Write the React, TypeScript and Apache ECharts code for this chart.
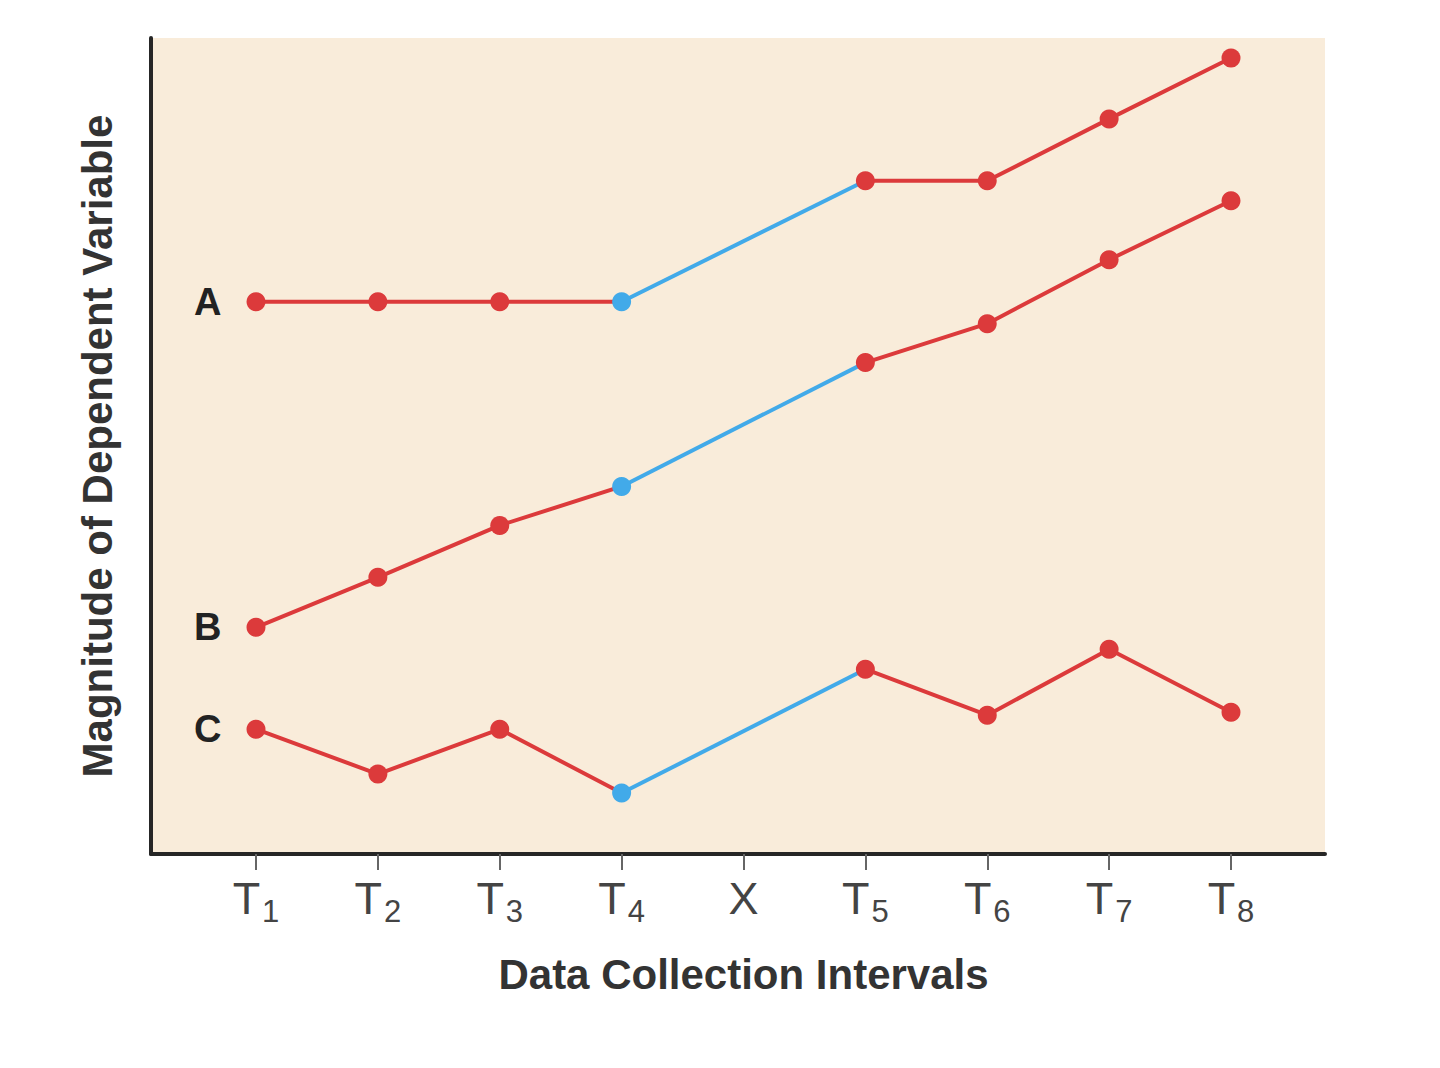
import React, { useEffect, useRef } from "react";
import * as echarts from "echarts";

const categories = ["T1", "T2", "T3", "T4", "X", "T5", "T6", "T7", "T8"];
const tickLabels = [
  { main: "T", sub: "1" },
  { main: "T", sub: "2" },
  { main: "T", sub: "3" },
  { main: "T", sub: "4" },
  { main: "X", sub: "" },
  { main: "T", sub: "5" },
  { main: "T", sub: "6" },
  { main: "T", sub: "7" },
  { main: "T", sub: "8" },
];
const seriesNames = ["A", "B", "C"];
// null at X (treatment point)
const seriesA = [55.3, 55.3, 55.3, 55.3, null, 67.4, 67.4, 73.6, 79.7];
const seriesB = [22.7, 27.7, 32.9, 36.8, null, 49.2, 53.1, 59.5, 65.4];
const seriesC = [12.5, 8.0, 12.5, 6.1, null, 18.5, 13.9, 20.5, 14.2];
const yMax = 81.7;
const xTitle = "Data Collection Intervals";
const yTitle = "Magnitude of Dependent Variable";

const RED = "#DC3A3B";
const BLUE = "#42AAE9";
const BG = "#F9ECDA";
const FONT = "'Liberation Sans', Arial, Helvetica, sans-serif";

export default function App() {
  const ref = useRef<HTMLDivElement>(null);
  useEffect(() => {
    if (!ref.current) return;
    const chart = echarts.init(ref.current, null, { renderer: "svg" });
    const all = [seriesA, seriesB, seriesC];
    const series: any[] = [];
    all.forEach((vals, si) => {
      const before = 3; // index of T4
      const after = 5; // index of T5
      const blueData = vals.map((v, i) => (i === before || i === after ? v : null));
      series.push({
        type: "line",
        xAxisIndex: 0,
        yAxisIndex: 0,
        data: blueData,
        connectNulls: true,
        showSymbol: false,
        symbol: "none",
        lineStyle: { color: BLUE, width: 4 },
        z: 2,
        silent: true,
      });
      const redData = vals.map((v, i) => {
        const item: any = { value: v === null ? "-" : v };
        if (i === before) item.itemStyle = { color: BLUE };
        if (i === 0) {
          item.label = {
            show: true,
            position: "left",
            distance: 25,
            formatter: seriesNames[si],
            fontFamily: FONT,
            fontWeight: "bold",
            fontSize: 38,
            color: "#222",
          };
        }
        return item;
      });
      series.push({
        type: "line",
        name: seriesNames[si],
        xAxisIndex: 0,
        yAxisIndex: 0,
        data: redData,
        connectNulls: false,
        symbol: "circle",
        symbolSize: 19,
        showAllSymbol: true,
        itemStyle: { color: RED },
        lineStyle: { color: RED, width: 4 },
        z: 3,
        silent: true,
      });
    });

    chart.setOption({
      animation: false,
      grid: [
        { left: 256, right: 209, top: 38, bottom: 214, show: false },
        {
          left: 151,
          right: 115,
          top: 38,
          bottom: 214,
          show: true,
          backgroundColor: BG,
          borderWidth: 0,
        },
      ],
      xAxis: [
        {
          type: "category",
          gridIndex: 0,
          data: categories,
          boundaryGap: false,
          axisLine: { show: false },
          axisTick: {
            show: true,
            length: 16,
            alignWithLabel: true,
            lineStyle: { color: "#666", width: 2 },
          },
          axisLabel: {
            margin: 22,
            interval: 0,
            formatter: (_v: string, idx: number) => {
              const t = tickLabels[idx];
              return t.sub ? `{t|${t.main}}{s|${t.sub}}` : `{t|${t.main}}`;
            },
            rich: {
              t: {
                fontFamily: FONT,
                fontSize: 45,
                lineHeight: 45,
                color: "#444",
                verticalAlign: "top",
              },
              s: {
                fontFamily: FONT,
                fontSize: 31,
                lineHeight: 31,
                color: "#444",
                padding: [26, 0, 0, 2],
              },
            },
          },
          splitLine: { show: false },
          name: xTitle,
          nameLocation: "middle",
          nameGap: 99,
          nameTextStyle: {
            fontFamily: FONT,
            fontWeight: "bold",
            fontSize: 42,
            color: "#333",
          },
        },
        {
          type: "value",
          gridIndex: 1,
          min: 0,
          max: 1,
          axisLine: { show: true, onZero: false, lineStyle: { color: "#262626", width: 4 } },
          axisTick: { show: false },
          axisLabel: { show: false },
          splitLine: { show: false },
        },
      ],
      yAxis: [
        {
          type: "value",
          gridIndex: 0,
          min: 0,
          max: yMax,
          axisLine: { show: false },
          axisTick: { show: false },
          axisLabel: { show: false },
          splitLine: { show: false },
        },
        {
          type: "value",
          gridIndex: 1,
          min: 0,
          max: 1,
          axisLine: { show: true, onZero: false, lineStyle: { color: "#262626", width: 4 } },
          axisTick: { show: false },
          axisLabel: { show: false },
          splitLine: { show: false },
          name: yTitle,
          nameLocation: "middle",
          nameRotate: 90,
          nameGap: 33,
          nameTextStyle: {
            fontFamily: FONT,
            fontWeight: "bold",
            fontSize: 42,
            color: "#333",
          },
        },
      ],
      series,
    });
    return () => chart.dispose();
  }, []);
  return <div ref={ref} style={{ width: 1440, height: 1068, margin: -8 }} />;
}
